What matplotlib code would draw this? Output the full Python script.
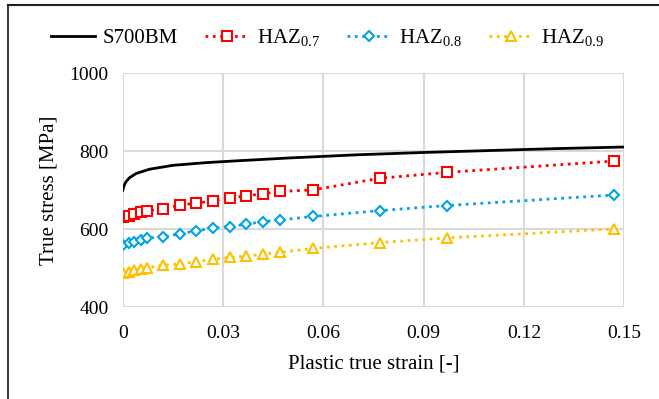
import matplotlib
matplotlib.use('Agg')
import matplotlib.pyplot as plt
from matplotlib.lines import Line2D

plt.rcParams['font.family'] = ['Liberation Serif', 'DejaVu Serif']
plt.rcParams['mathtext.fontset'] = 'custom'
plt.rcParams['mathtext.rm'] = 'Liberation Serif'

# S700BM base metal curve
bm_strain = [0, 0.0005, 0.001, 0.002, 0.004, 0.008, 0.015, 0.025, 0.035,
             0.05, 0.07, 0.09, 0.11, 0.13, 0.15]
bm_stress = [700, 714, 722, 732, 743, 754, 764, 771, 776,
             783, 791, 797, 802, 807, 811]

# HAZ curves, marker points
haz_strain = [0, 0.0018, 0.0035, 0.0054, 0.0073, 0.012, 0.017, 0.022, 0.027,
              0.032, 0.037, 0.042, 0.047, 0.057, 0.077, 0.097, 0.147]
haz07_stress = [631, 634, 639, 644, 647, 653, 662, 667, 673,
                680, 686, 691, 697, 701, 731, 746, 775]
haz08_stress = [560, 564, 567, 572, 577, 581, 588, 596, 603,
                607, 613, 620, 624, 633, 648, 661, 688]
haz09_stress = [487, 491, 495, 497, 501, 508, 511, 517, 523,
                528, 531, 536, 541, 551, 566, 578, 601]

series = [
    ('HAZ$_{0.7}$', haz07_stress, '#FF0000', 's', 7),
    ('HAZ$_{0.8}$', haz08_stress, '#00A2E8', 'D', 5.5),
    ('HAZ$_{0.9}$', haz09_stress, '#FFC000', '^', 7.5),
]

fig = plt.figure(figsize=(6.59, 3.99), dpi=100)
ax = fig.add_axes([122.7 / 659, 1 - 307.3 / 399, (624.3 - 122.7) / 659, (307.3 - 73.3) / 399])

ax.plot(bm_strain, bm_stress, color='black', lw=2, label='S700BM', zorder=4)
for name, vals, col, mk, ms in series:
    ax.plot(haz_strain, vals, color=col, ls=':', lw=2, marker=mk, ms=ms,
            mfc='white', mec=col, mew=1.5, label=name, zorder=3)

ax.set_xlim(0, 0.15)
ax.set_ylim(400, 1000)
ax.set_xticks([0, 0.03, 0.06, 0.09, 0.12, 0.15])
ax.set_xticklabels(['0', '0.03', '0.06', '0.09', '0.12', '0.15'])
ax.set_yticks([400, 600, 800, 1000])
ax.grid(True, color='#d9d9d9', lw=1.5)
ax.set_axisbelow(True)
for s in ax.spines.values():
    s.set_visible(False)
ax.tick_params(axis='y', length=0, labelsize=14, pad=10)
ax.tick_params(axis='x', length=0, labelsize=14, pad=13)
ax.set_xlabel('Plastic true strain [-]', fontsize=15, labelpad=9)
ax.set_ylabel('True stress [MPa]', fontsize=15, labelpad=8)

fig.legend(loc='center', bbox_to_anchor=(0.497, 1 - 38 / 399), ncol=4, frameon=False,
           fontsize=15, handlelength=2.1, handletextpad=0.4, columnspacing=1.3)

# outer frame of the original figure (left and top edges)
fig.add_artist(Line2D([7.5 / 659, 7.5 / 659], [0, 1 - 5 / 399], color='#404040', lw=1.5))
fig.add_artist(Line2D([7.5 / 659, 1], [1 - 5 / 399, 1 - 5 / 399], color='#202020', lw=1.5))

fig.savefig('out.png', dpi=100)
